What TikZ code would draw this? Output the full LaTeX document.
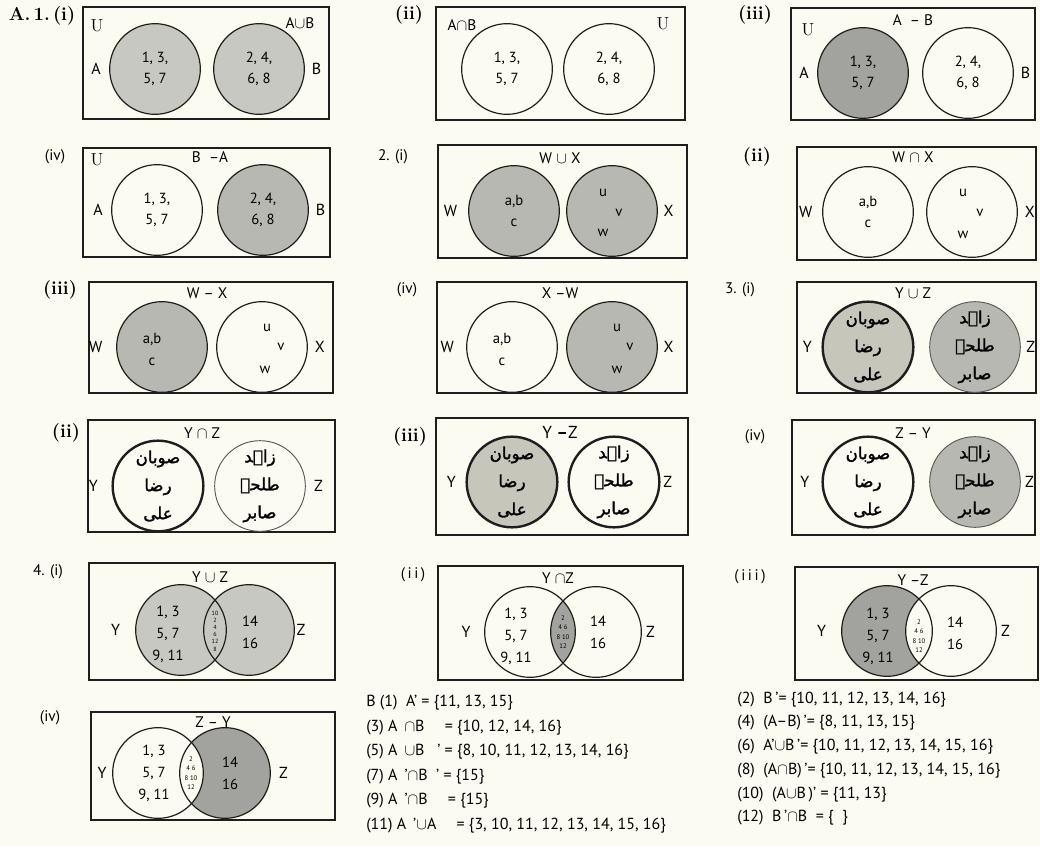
\documentclass[tikz,border=0pt]{standalone}
\usepackage{fontspec}
\setsansfont{PT Sans}
\newfontfamily\urdufont[Script=Arabic,FakeBold=1.6]{DejaVu Sans}
\TeXXeTstate=1
\usetikzlibrary{positioning}
\definecolor{paper}{HTML}{FCFBF2}
\definecolor{inkblack}{HTML}{1E1E1E}
\definecolor{rimgray}{HTML}{5A5A5A}
\definecolor{shadelight}{HTML}{C8C8C3}
\definecolor{shademid}{HTML}{B8B8B3}
\definecolor{shadedark}{HTML}{A2A29E}
\definecolor{shadesage}{HTML}{C7C6BA}
\newcommand{\urline}[1]{\beginR#1\endR}
\tikzset{
  panelbox/.style={draw=inkblack,line width=0.8pt},
  vennset/.style={circle,draw=inkblack,line width=0.9pt,minimum size=68pt,inner sep=0pt,align=center,font=\sffamily\fontsize{11}{16}\selectfont},
  boldset/.style={vennset,line width=1.8pt},
  thinset/.style={vennset,draw=rimgray,line width=0.7pt},
  setlabel/.style={font=\sffamily\fontsize{12}{14}\selectfont,inner sep=1pt},
  settitle/.style={font=\sffamily\fontsize{11.5}{13}\selectfont,inner sep=1pt},
  serifnum/.style={font=\bfseries\fontsize{14}{16}\selectfont,inner sep=1pt},
  sansnum/.style={font=\sffamily\fontsize{11.5}{13}\selectfont,inner sep=1pt},
  elemtext/.style={font=\sffamily\fontsize{11}{16.5}\selectfont,align=center,inner sep=0pt},
  lenstext/.style={font=\sffamily\fontsize{4.5}{5.4}\selectfont,align=center,inner sep=0pt},
  urdutext/.style={font=\urdufont\fontsize{12.5}{21}\selectfont,align=center,inner sep=0pt},
  anstext/.style={anchor=west,font=\sffamily\fontsize{12}{14}\selectfont,inner sep=0pt},
}

\begin{document}
\begin{tikzpicture}[x=0.75pt,y=-0.75pt,node distance=4pt]
  \fill[paper] (0,0) rectangle (1040,846);
  \useasboundingbox (0,0) rectangle (1040,846);

  % A.1 (i)
  \node[serifnum] (n1) at (42,16) {A.\,1.\,(i)};
  \draw[panelbox] (83,7) rectangle (329,119);
  \node[font=\fontsize{13}{15}\selectfont] (u1) at (97,26) {U};
  \node[settitle] (t1) at (300,23) {A$\cup$B};
  \node[vennset,fill=shadelight] (a1) at (155,69) {1, 3,\\5, 7};
  \node[vennset,fill=shadelight] (b1) at (259,69) {2, 4,\\6, 8};
  \node[setlabel,left=5pt of a1] (la1) {A};
  \node[setlabel,right=4pt of b1] (lb1) {B};

  % (ii)
  \node[serifnum] (n2) at (409,15) {(ii)};
  \draw[panelbox] (436,7) rectangle (685,120);
  \node[settitle] (t2) at (462,25) {A$\cap$B};
  \node[font=\fontsize{13}{15}\selectfont] (u2) at (663,24) {U};
  \node[vennset] (a2) at (507,69) {1, 3,\\5, 7};
  \node[vennset] (b2) at (609,69) {2, 4,\\6, 8};

  % (iii)
  \node[serifnum] (n3) at (755,15) {(iii)};
  \draw[panelbox] (791,8) rectangle (1035,120);
  \node[font=\fontsize{13}{15}\selectfont] (u3) at (808,30) {U};
  \node[settitle] (t3) at (913,20) {A \ -- B};
  \node[vennset,fill=shadedark] (a3) at (863,73) {1, 3,\\5, 7};
  \node[vennset] (b3) at (968,73) {2, 4,\\6, 8};
  \node[setlabel,left=5pt of a3] (la3) {A};
  \node[setlabel,right=4pt of b3] (lb3) {B};

  % (iv)
  \node[sansnum] (n4) at (55,157) {(iv)};
  \draw[panelbox] (83,148) rectangle (330,257);
  \node[font=\fontsize{13}{15}\selectfont] (u4) at (97,160) {U};
  \node[settitle] (t4) at (210,157) {B \ --A};
  \node[vennset] (a4) at (157,210) {1, 3,\\5, 7};
  \node[vennset,fill=shademid] (b4) at (263,210) {2, 4,\\6, 8};
  \node[setlabel,left=5pt of a4] (la4) {A};
  \node[setlabel,right=4pt of b4] (lb4) {B};

  % 2 (i)
  \node[sansnum] (n5) at (393,157) {2. (i)};
  \draw[panelbox] (438,145) rectangle (687,258);
  \node[settitle] (t5) at (560,158) {W $\cup$ X};
  \node[vennset,fill=shademid] (w5) at (514,211) {a,b\\c};
  \node[vennset,fill=shademid] (x5) at (612,211) {};
  \node[elemtext] (eu5) at ([shift={(-9,-18)}]x5.center) {u};
  \node[elemtext] (ev5) at ([shift={(7,2)}]x5.center) {v};
  \node[elemtext] (ew5) at ([shift={(-9,22)}]x5.center) {w};
  \node[setlabel,left=7pt of w5] (lw5) {W};
  \node[setlabel,right=3pt of x5] (lx5) {X};

  % 2 (ii)
  \node[serifnum] (n6) at (757,157) {(ii)};
  \draw[panelbox] (797,147) rectangle (1036,260);
  \node[settitle] (t6) at (913,157) {W $\cap$ X};
  \node[vennset] (w6) at (868,212) {a,b\\c};
  \node[vennset] (x6) at (972,212) {};
  \node[elemtext] (eu6) at ([shift={(-9,-19)}]x6.center) {u};
  \node[elemtext] (ev6) at ([shift={(8,1)}]x6.center) {v};
  \node[elemtext] (ew6) at ([shift={(-9,23)}]x6.center) {w};
  \node[setlabel,left=6pt of w6] (lw6) {W};
  \node[setlabel,right=4pt of x6] (lx6) {X};

  % (iii) W - X
  \node[serifnum] (n7) at (60,290) {(iii)};
  \draw[panelbox] (89,282) rectangle (333,393);
  \node[settitle] (t7) at (207,293) {W -- X};
  \node[vennset,fill=shademid] (w7) at (162,347) {};
  \node[vennset] (x7) at (262,347) {};
  \node[elemtext] (ew7) at ([shift={(-10,2)}]w7.center) {a,b\\c};
  \node[elemtext] (eu7) at ([shift={(5,-19)}]x7.center) {u};
  \node[elemtext] (ev7) at ([shift={(19,0)}]x7.center) {v};
  \node[elemtext] (ex7) at ([shift={(3,23)}]x7.center) {w};
  \node[setlabel,left=9pt of w7] (lw7) {W};
  \node[setlabel,right=4pt of x7] (lx7) {X};

  % (iv) X - W
  \node[sansnum] (n8) at (407,290) {(iv)};
  \draw[panelbox] (437,282) rectangle (687,393);
  \node[settitle] (t8) at (560,293) {X --W};
  \node[vennset] (w8) at (512,347) {};
  \node[vennset,fill=shademid] (x8) at (612,347) {};
  \node[elemtext] (ew8) at ([shift={(-10,2)}]w8.center) {a,b\\c};
  \node[elemtext] (eu8) at ([shift={(5,-19)}]x8.center) {u};
  \node[elemtext] (ev8) at ([shift={(18,0)}]x8.center) {v};
  \node[elemtext] (ex8) at ([shift={(5,23)}]x8.center) {w};
  \node[setlabel,left=8pt of w8] (lw8) {W};
  \node[setlabel,right=3pt of x8] (lx8) {X};

  % 3 (i)
  \node[sansnum] (n9) at (740,290) {3. (i)};
  \draw[panelbox] (797,282) rectangle (1036,393);
  \node[settitle] (t9) at (913,293) {Y $\cup$ Z};
  \node[boldset,fill=shadesage] (y9) at (868,347) {};
  \node[thinset,fill=shademid] (z9) at (975,347) {};
  \node[urdutext] (ey9) at (y9.center) {\urline{صوبان}\\\urline{رضا}\\\urline{علی}};
  \node[urdutext] (ez9) at (z9.center) {\urline{زاہد}\\\urline{طلحہ}\\\urline{صابر}};
  \node[setlabel,left=6pt of y9] (ly9) {Y};
  \node[setlabel,right=3pt of z9] (lz9) {Z};

  % (ii) Y n Z
  \node[serifnum] (n10) at (66,433) {(ii)};
  \draw[panelbox] (88,420) rectangle (335,532);
  \node[settitle] (t10) at (202,433) {Y $\cap$ Z};
  \node[boldset] (y10) at (158,486) {};
  \node[thinset] (z10) at (260,486) {};
  \node[urdutext] (ey10) at (y10.center) {\urline{صوبان}\\\urline{رضا}\\\urline{علی}};
  \node[urdutext] (ez10) at (z10.center) {\urline{زاہد}\\\urline{طلحہ}\\\urline{صابر}};
  \node[setlabel,left=9pt of y10] (ly10) {Y};
  \node[setlabel,right=5pt of z10] (lz10) {Z};

  % (iii) Y - Z
  \node[serifnum] (n11) at (410,437) {(iii)};
  \draw[panelbox,line width=1.6pt] (436,418) rectangle (688,535);
  \node[settitle,font=\sffamily\fontsize{13}{15}\selectfont] (t11) at (560,432) {Y \textbf{--}Z};
  \node[boldset,fill=shadesage] (y11) at (512,482) {};
  \node[boldset] (z11) at (614,482) {};
  \node[urdutext] (ey11) at (y11.center) {\urline{صوبان}\\\urline{رضا}\\\urline{علی}};
  \node[urdutext] (ez11) at (z11.center) {\urline{زاہد}\\\urline{طلحہ}\\\urline{صابر}};
  \node[setlabel,left=6pt of y11] (ly11) {Y};
  \node[setlabel,right=1pt of z11] (lz11) {Z};

  % (iv) Z - Y
  \node[sansnum] (n12) at (755,437) {(iv)};
  \draw[panelbox] (792,420) rectangle (1035,535);
  \node[settitle] (t12) at (913,433) {Z -- Y};
  \node[boldset] (y12) at (868,482) {};
  \node[thinset,fill=shademid] (z12) at (975,482) {};
  \node[urdutext] (ey12) at (y12.center) {\urline{صوبان}\\\urline{رضا}\\\urline{علی}};
  \node[urdutext] (ez12) at (z12.center) {\urline{زاہد}\\\urline{طلحہ}\\\urline{صابر}};
  \node[setlabel,left=8pt of y12] (ly12) {Y};
  \node[setlabel,right=2pt of z12] (lz12) {Z};

  % 4 (i)
  \node[sansnum] (n13) at (48,572) {4. (i)};
  \draw[panelbox] (89,563) rectangle (335,680);
  \node[settitle] (t13) at (210,577) {Y $\cup$ Z};
  \coordinate (cy13) at (181,630); \coordinate (cz13) at (249,630);
  \fill[shadelight] (cy13) circle[radius=34pt] (cz13) circle[radius=34pt];
  \node[vennset] (y13) at (cy13) {}; \node[vennset] (z13) at (cz13) {};
  \node[elemtext] (ey13) at ([shift={(-13,4)}]y13.center) {1, 3\\5, 7\\9, 11};
  \node[elemtext] (ez13) at ([shift={(1,2)}]z13.center) {14\\16};
  \node[lenstext] (ec13) at (215,631) {10\\2\\4\\6\\12\\8};
  \node[setlabel,left=10pt of y13] (ly13) {Y};
  \node[setlabel,right=0pt of z13] (lz13) {Z};

  % (ii) Y n Z
  \node[sansnum] (n14) at (413,575) {(\,i\,i\,)};
  \draw[panelbox] (438,566) rectangle (683,680);
  \node[settitle] (t14) at (558,578) {Y $\cap$Z};
  \coordinate (cy14) at (530,632); \coordinate (cz14) at (596,632);
  \begin{scope}
    \clip (cy14) circle[radius=34pt];
    \fill[shadedark] (cz14) circle[radius=34pt];
  \end{scope}
  \node[vennset] (y14) at (cy14) {}; \node[vennset] (z14) at (cz14) {};
  \node[elemtext] (ey14) at ([shift={(-14,4)}]y14.center) {1, 3\\5, 7\\9, 11};
  \node[elemtext] (ez14) at ([shift={(2,0)}]z14.center) {14\\16};
  \node[lenstext,font=\sffamily\fontsize{5}{7}\selectfont] (ec14) at (563,632) {2\\4 6\\8 10\\12};
  \node[setlabel,left=9pt of y14] (ly14) {Y};
  \node[setlabel,right=2pt of z14] (lz14) {Z};

  % (iii) Y - Z
  \node[sansnum] (n15) at (750,577) {(\,i\,i\,i\,)};
  \draw[panelbox] (795,567) rectangle (1038,680);
  \node[settitle] (t15) at (913,580) {Y --Z};
  \coordinate (cy15) at (887,631); \coordinate (cz15) at (951,631);
  \begin{scope}
    \clip (cy15) circle[radius=34pt];
    \fill[shadedark,even odd rule] (cy15) circle[radius=34pt] (cz15) circle[radius=34pt];
  \end{scope}
  \node[vennset] (y15) at (cy15) {}; \node[vennset] (z15) at (cz15) {};
  \node[elemtext] (ey15) at ([shift={(-9,5)}]y15.center) {1, 3\\5, 7\\9, 11};
  \node[elemtext] (ez15) at ([shift={(4,2)}]z15.center) {14\\16};
  \node[lenstext,font=\sffamily\fontsize{5}{7}\selectfont] (ec15) at (919,636) {2\\4 6\\8 10\\12};
  \node[setlabel,left=10pt of y15] (ly15) {Y};
  \node[setlabel,right=2pt of z15] (lz15) {Z};

  % (iv) Z - Y
  \node[sansnum] (n16) at (50,718) {(iv)};
  \draw[panelbox] (91,712) rectangle (335,820);
  \node[settitle] (t16) at (213,722) {Z -- Y};
  \coordinate (cy16) at (158,773); \coordinate (cz16) at (225,773);
  \begin{scope}
    \clip (cz16) circle[radius=34pt];
    \fill[shadedark,even odd rule] (cy16) circle[radius=34pt] (cz16) circle[radius=34pt];
  \end{scope}
  \node[vennset] (y16) at (cy16) {}; \node[vennset] (z16) at (cz16) {};
  \node[elemtext] (ey16) at ([shift={(-4,0)}]y16.center) {1, 3\\5, 7\\9, 11};
  \node[elemtext] (ez16) at ([shift={(5,0)}]z16.center) {14\\16};
  \node[lenstext,font=\sffamily\fontsize{5}{7}\selectfont] (ec16) at (191,773) {2\\4 6\\8 10\\12};
  \node[setlabel,left=3pt of y16] (ly16) {Y};
  \node[setlabel,right=5pt of z16] (lz16) {Z};

  % answers B
  \node[anstext] (ans1) at (366,703) {B (1) \ A' = \{11, 13, 15\}};
  \node[anstext] (ans3) at (366,728) {(3) A \,$\cap$B \quad = \{10, 12, 14, 16\}};
  \node[anstext] (ans5) at (366,752) {(5) A \,$\cup$B \ \ ' = \{8, 10, 11, 12, 13, 14, 16\}};
  \node[anstext] (ans7) at (366,777) {(7) A \,'$\cap$B \ ' = \{15\}};
  \node[anstext] (ans9) at (366,801) {(9) A \,'$\cap$B \quad = \{15\}};
  \node[anstext] (ans11) at (366,826) {(11) A \,'$\cup$A \quad = \{3, 10, 11, 12, 13, 14, 15, 16\}};
  \node[anstext] (ans2) at (737,700) {(2) \ B\,'= \{10, 11, 12, 13, 14, 16\}};
  \node[anstext] (ans4) at (737,723) {(4) \ (A--B)\,'= \{8, 11, 13, 15\}};
  \node[anstext] (ans6) at (737,747) {(6) \ A'$\cup$B\,'= \{10, 11, 12, 13, 14, 15, 16\}};
  \node[anstext] (ans8) at (737,771) {(8) \ (A$\cap$B)\,'= \{10, 11, 12, 13, 14, 15, 16\}};
  \node[anstext] (ans10) at (737,795) {(10) \ (A$\cup$B\,)' = \{11, 13\}};
  \node[anstext] (ans12) at (737,818) {(12) \ B\,'$\cap$B \ = \{ \ \}};
\end{tikzpicture}
\end{document}
